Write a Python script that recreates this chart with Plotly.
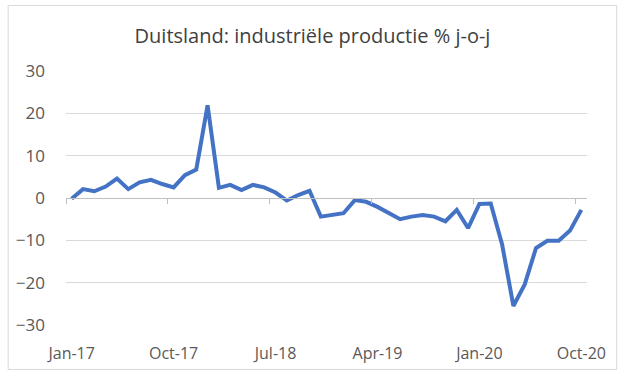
import plotly.graph_objects as go

months = ["Jan-17","Feb-17","Mar-17","Apr-17","May-17","Jun-17","Jul-17","Aug-17","Sep-17","Oct-17","Nov-17","Dec-17",
          "Jan-18","Feb-18","Mar-18","Apr-18","May-18","Jun-18","Jul-18","Aug-18","Sep-18","Oct-18","Nov-18","Dec-18",
          "Jan-19","Feb-19","Mar-19","Apr-19","May-19","Jun-19","Jul-19","Aug-19","Sep-19","Oct-19","Nov-19","Dec-19",
          "Jan-20","Feb-20","Mar-20","Apr-20","May-20","Jun-20","Jul-20","Aug-20","Sep-20","Oct-20"]
values = [-0.2, 2.1, 1.6, 2.7, 4.6, 2.1, 3.7, 4.3, 3.3, 2.5, 5.4, 6.7,
          21.9, 2.4, 3.1, 1.9, 3.1, 2.5, 1.3, -0.6, 0.7, 1.7, -4.4, -4.0,
          -3.6, -0.5, -0.9, -2.1, -3.6, -5.0, -4.4, -4.0, -4.4, -5.5, -2.8, -7.1,
          -1.4, -1.3, -10.9, -25.5, -20.4, -11.8, -10.1, -10.1, -7.7, -2.8]
tick_labels = ["Jan-17", "Oct-17", "Jul-18", "Apr-19", "Jan-20", "Oct-20"]
y_ticks = [-30, -20, -10, 0, 10, 20, 30]
title_text = "Duitsland: industriële productie % j-o-j"

n = len(months)
tick_pos = [months.index(t) for t in tick_labels]

fig = go.Figure()
fig.add_trace(go.Scatter(
    x=list(range(n)), y=values, mode="lines",
    line=dict(color="#4472C4", width=4),
    hoverinfo="skip", showlegend=False,
))

font_family = "Open Sans, sans-serif"
fig.update_layout(
    width=625, height=376,
    margin=dict(l=66, r=38, t=71, b=51),
    paper_bgcolor="white", plot_bgcolor="white",
    title=dict(text=title_text, x=0.5, xanchor="center", y=0.903, yanchor="middle",
               font=dict(family=font_family, size=20, color="#404040")),
    xaxis=dict(
        range=[-0.5, n - 0.5], anchor="free", position=0.5, side="bottom",
        showgrid=False, zeroline=False,
        showline=True, linecolor="#BFBFBF", linewidth=1,
        tickmode="array", tickvals=tick_pos, ticktext=tick_labels,
        ticks="", ticklabelstandoff=141,
        tickfont=dict(family=font_family, size=16, color="#595959"),
        minor=dict(tickmode="array", tickvals=[p - 0.5 for p in tick_pos],
                   ticks="outside", ticklen=5, tickcolor="#BFBFBF", showgrid=False),
    ),
    yaxis=dict(
        range=[-30, 30], tickmode="array", tickvals=y_ticks,
        showgrid=True, gridcolor="#D9D9D9", gridwidth=1, zeroline=False,
        showline=False, ticks="", ticklabelstandoff=20,
        tickfont=dict(family=font_family, size=17, color="#595959"),
    ),
    shapes=[dict(type="rect", xref="paper", yref="paper",
                 x0=-0.111, x1=1.057, y0=-0.175, y1=1.258,
                 line=dict(color="#D9D9D9", width=1), fillcolor="rgba(0,0,0,0)",
                 layer="above")],
)

fig.write_html("out.html", config={"displayModeBar": False, "staticPlot": True},
               post_script="document.body.style.margin='0';")
